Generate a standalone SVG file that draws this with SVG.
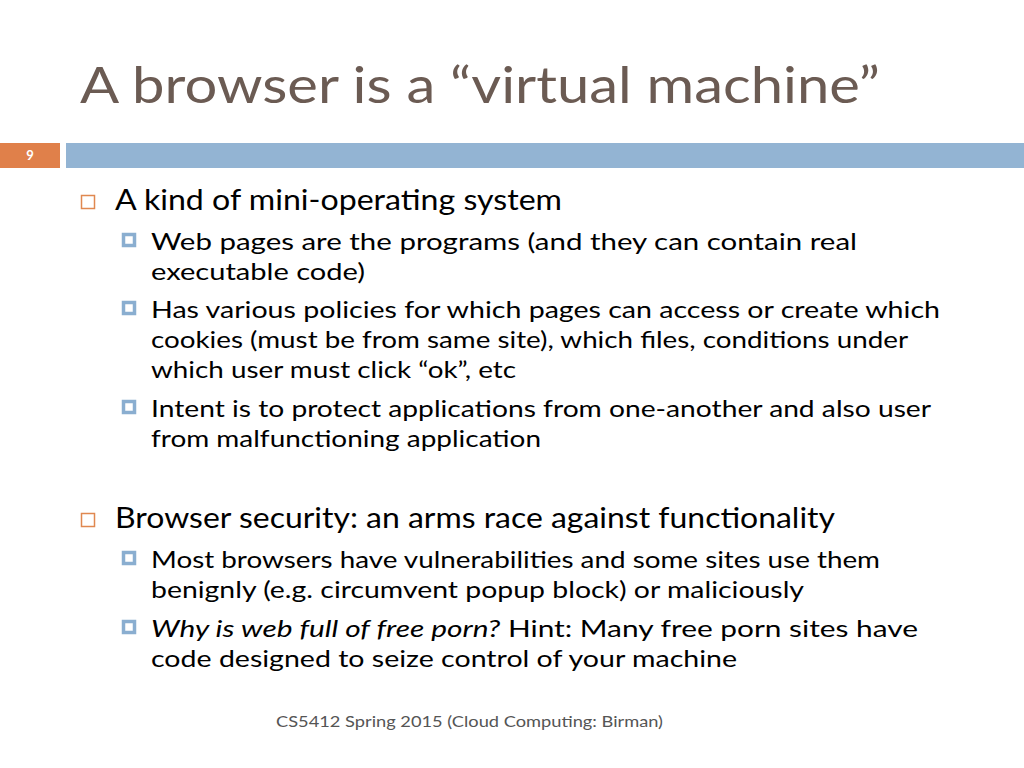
<svg xmlns="http://www.w3.org/2000/svg" width="1024" height="768" viewBox="0 0 1024 768">
<style>
text{font-family:Lato,"Open Sans",sans-serif;fill:#000}
.t{font-size:50px;fill:#6b5b53}
.l1{font-size:28px}
.l2{font-size:24px}
.f{font-size:16px;fill:#555}
.b1{fill:#fff;stroke:#e08850;stroke-width:1.5}
.b2{fill:#fff;stroke:#8aaed0;stroke-width:3.5}
</style>
<rect width="1024" height="768" fill="#fff"/>
<text class="t" x="80" y="103" textLength="800" lengthAdjust="spacingAndGlyphs">A browser is a “virtual machine”</text>
<rect x="0" y="143" width="60" height="25" fill="#e0804a"/>
<text x="30" y="160" text-anchor="middle" style="font-size:13px;font-weight:bold;fill:#fff">9</text>
<rect x="66" y="143" width="958" height="25" fill="#93b4d3"/>
<g id="bullets">
<rect class="b1" x="81.5" y="195.5" width="13" height="13"/>
<rect class="b1" x="81.5" y="513.5" width="13" height="13"/>
<rect class="b2" x="123.5" y="234.5" width="11" height="11"/>
<rect class="b2" x="123.5" y="302.5" width="11" height="11"/>
<rect class="b2" x="123.5" y="401.5" width="11" height="11"/>
<rect class="b2" x="123.5" y="552.5" width="11" height="11"/>
<rect class="b2" x="123.5" y="621.5" width="11" height="11"/>
</g>
<text class="l1" x="115" y="210" textLength="447" lengthAdjust="spacingAndGlyphs">A kind of mini-operating system</text>
<text class="l2" x="151" y="250" textLength="706" lengthAdjust="spacingAndGlyphs">Web pages are the programs (and they can contain real</text>
<text class="l2" x="151" y="280" textLength="214" lengthAdjust="spacingAndGlyphs">executable code)</text>
<text class="l2" x="151" y="318" textLength="789" lengthAdjust="spacingAndGlyphs">Has various policies for which pages can access or create which</text>
<text class="l2" x="151" y="348" textLength="757" lengthAdjust="spacingAndGlyphs">cookies (must be from same site), which files, conditions under</text>
<text class="l2" x="151" y="378" textLength="365" lengthAdjust="spacingAndGlyphs">which user must click “ok”, etc</text>
<text class="l2" x="151" y="417" textLength="780" lengthAdjust="spacingAndGlyphs">Intent is to protect applications from one-another and also user</text>
<text class="l2" x="151" y="447" textLength="390" lengthAdjust="spacingAndGlyphs">from malfunctioning application</text>
<text class="l1" x="115" y="528" textLength="720" lengthAdjust="spacingAndGlyphs">Browser security: an arms race against functionality</text>
<text class="l2" x="151" y="568" textLength="729" lengthAdjust="spacingAndGlyphs">Most browsers have vulnerabilities and some sites use them</text>
<text class="l2" x="151" y="598" textLength="653" lengthAdjust="spacingAndGlyphs">benignly (e.g. circumvent popup block) or maliciously</text>
<text class="l2" x="151" y="637" textLength="767" lengthAdjust="spacingAndGlyphs"><tspan font-style="italic">Why is web full of free porn?</tspan>  Hint: Many free porn sites have</text>
<text class="l2" x="151" y="667" textLength="586" lengthAdjust="spacingAndGlyphs">code designed to seize control of your machine</text>
<text class="f" x="276" y="727" textLength="387" lengthAdjust="spacingAndGlyphs">CS5412 Spring 2015 (Cloud Computing: Birman)</text>
</svg>
